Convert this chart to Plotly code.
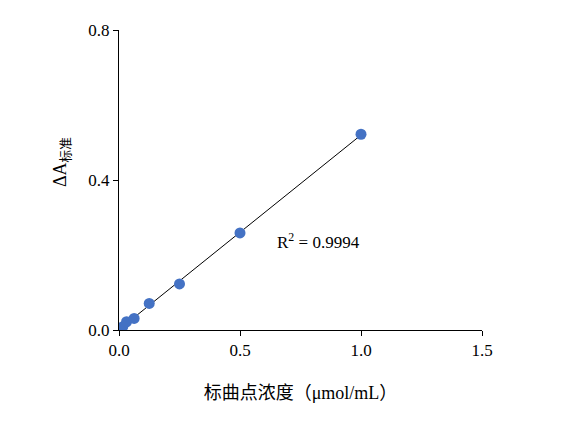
import numpy as np
import plotly.graph_objects as go

# standard curve points
conc = [0.0078, 0.0156, 0.03125, 0.0625, 0.125, 0.25, 0.5, 1.0]
delta_a = [0.005, 0.009, 0.022, 0.031, 0.071, 0.123, 0.259, 0.522]
r2_text = "R<sup>2</sup> = 0.9994"

x_ticks = [0.0, 0.5, 1.0, 1.5]
y_ticks = [0.0, 0.4, 0.8]

font_main = '"Liberation Serif", "Times New Roman", "Noto Sans CJK SC", serif'

# linear fit for the trend line
k, b = np.polyfit(conc, delta_a, 1)
fit_x = np.array([min(conc), max(conc)])
fit_y = k * fit_x + b

fig = go.Figure()
fig.add_trace(go.Scatter(x=fit_x, y=fit_y, mode="lines",
                         line=dict(color="black", width=1), showlegend=False))
fig.add_trace(go.Scatter(x=conc, y=delta_a, mode="markers",
                         marker=dict(size=11, color="#4472C4"), showlegend=False))

fig.add_annotation(x=0.645, y=0.237, xref="x", yref="y", text=r2_text,
                   showarrow=False, xanchor="left", yanchor="middle",
                   font=dict(size=17, color="black", family=font_main))

# y title placed by hand (subscript shifts it upward in the reference)
fig.add_annotation(x=-0.157, y=0.56, xref="paper", yref="paper", text="ΔA<sub>标准</sub>",
                   showarrow=False, textangle=-90, xanchor="center", yanchor="middle",
                   font=dict(size=18, color="black", family=font_main))

fig.update_xaxes(range=[0, 1.5], tickvals=x_ticks, ticktext=["0.0", "0.5", "1.0", "1.5"],
                 showline=True, linecolor="black", linewidth=1, showgrid=False, zeroline=False,
                 ticks="outside", ticklen=5, tickcolor="black",
                 tickfont=dict(size=17, color="black", family=font_main),
                 title=dict(text="标曲点浓度（μmol/mL）", standoff=26,
                            font=dict(size=18, color="black", family=font_main)))
fig.update_yaxes(range=[0, 0.8], tickvals=y_ticks, ticktext=["0.0", "0.4", "0.8"],
                 showline=True, linecolor="black", linewidth=1, showgrid=False, zeroline=False,
                 ticks="outside", ticklen=5, tickcolor="black",
                 tickfont=dict(size=17, color="black", family=font_main))

fig.update_layout(width=566, height=432, plot_bgcolor="white", paper_bgcolor="white",
                  margin=dict(l=111, r=92, t=22, b=110))

fig.write_html("out.html")
